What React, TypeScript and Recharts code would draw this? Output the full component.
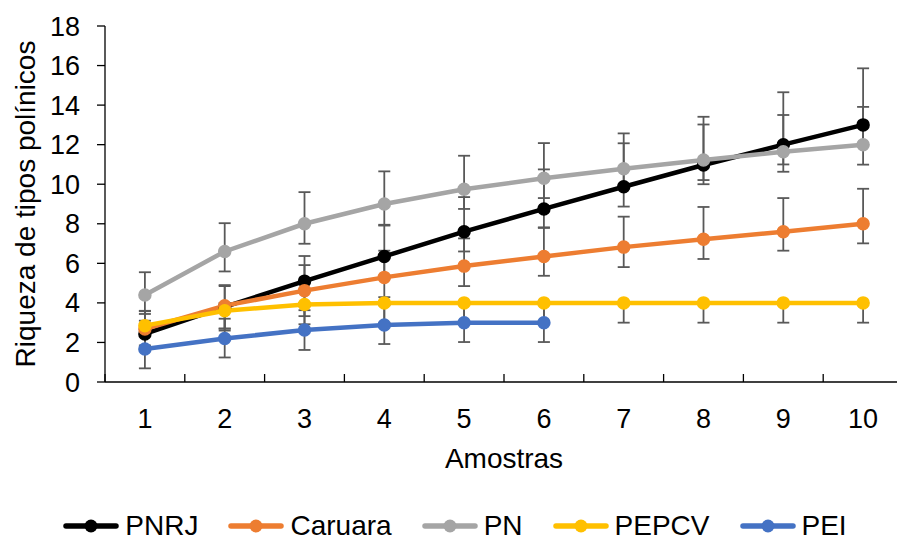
import React from 'react';
import { LineChart, Line, XAxis, YAxis, ErrorBar, Legend, Label } from 'recharts';

const FONT = '"Liberation Sans", Arial, sans-serif';

// Categories (Amostras)
const samples = [1, 2, 3, 4, 5, 6, 7, 8, 9, 10];
const xTicks = [0.5, 1, 1.5, 2, 2.5, 3, 3.5, 4, 4.5, 5, 5.5, 6, 6.5, 7, 7.5, 8, 8.5, 9, 9.5, 10, 10.5];
const yTicks = [0, 2, 4, 6, 8, 10, 12, 14, 16, 18];

// Series values
const pnrj = [2.43, 3.8, 5.1, 6.35, 7.6, 8.75, 9.87, 10.97, 12.0, 13.0];
const caruara = [2.68, 3.86, 4.62, 5.29, 5.86, 6.35, 6.82, 7.22, 7.6, 8.0];
const pn = [4.4, 6.6, 8.0, 9.0, 9.75, 10.3, 10.78, 11.22, 11.64, 12.0];
const pepcv = [2.85, 3.6, 3.92, 4.0, 4.0, 4.0, 4.0, 4.0, 4.0, 4.0];
const pei = [1.67, 2.2, 2.63, 2.88, 3.0, 3.0];

// Error bars (minus, plus)
const pnrjMinus = [0.8, 1.1, 1.27, 1.0, 1.0, 0.96, 1.0, 0.97, 1.0, 1.0];
const pnrjPlus = [0.67, 1.05, 1.27, 1.6, 1.75, 2.0, 2.2, 2.44, 2.65, 2.86];
const caruaraMinus = [0.9, 1.16, 1.29, 1.0, 1.01, 0.98, 1.01, 1.0, 0.96, 0.99];
const caruaraPlus = [0.9, 1.04, 1.29, 1.35, 1.4, 1.47, 1.54, 1.63, 1.7, 1.77];
const pnMinus = [0.96, 1.01, 1.01, 1.09, 1.0, 1.0, 1.0, 1.01, 1.01, 1.01];
const pnPlus = [1.15, 1.43, 1.6, 1.65, 1.69, 1.78, 1.79, 1.8, 1.86, 1.91];
const pepcvMinus = [1.0, 1.0, 1.0, 1.0, 1.0, 1.0, 1.0, 1.0, 1.0, 1.0];
const pepcvPlus = [0.75, 0.4, 0.08, 0, 0, 0, 0, 0, 0, 0];
const peiMinus = [0.98, 0.96, 1.01, 0.96, 0.98, 0.98];
const peiPlus = [1.0, 1.0, 1.0, 1.0, 1.0, 1.0];

const SERIES = [
  { key: 'pnrj', name: 'PNRJ', color: '#000000', values: pnrj, minus: pnrjMinus, plus: pnrjPlus },
  { key: 'caruara', name: 'Caruara', color: '#ED7D31', values: caruara, minus: caruaraMinus, plus: caruaraPlus },
  { key: 'pn', name: 'PN', color: '#A5A5A5', values: pn, minus: pnMinus, plus: pnPlus },
  { key: 'pepcv', name: 'PEPCV', color: '#FFC000', values: pepcv, minus: pepcvMinus, plus: pepcvPlus },
  { key: 'pei', name: 'PEI', color: '#4472C4', values: pei, minus: peiMinus, plus: peiPlus },
];

const data = samples.map((s, i) => {
  const row: any = { x: s };
  SERIES.forEach((se) => {
    const v = se.values[i];
    if (v !== undefined) {
      row[se.key] = v;
      row[se.key + 'Err'] = [se.minus[i], se.plus[i]];
    }
  });
  return row;
});

const XTick = (props: any) => {
  const { x, y, payload } = props;
  const v = payload.value;
  if (Number.isInteger(v)) {
    return (
      <text x={x} y={y + 46} textAnchor="middle" fontSize={27} fill="#000" fontFamily={FONT}>
        {v}
      </text>
    );
  }
  return <line x1={x} x2={x} y1={y} y2={y - 8} stroke="#000" strokeWidth={1.3} />;
};

const renderLegend = () => (
  <div
    style={{
      display: 'flex',
      justifyContent: 'center',
      alignItems: 'center',
      fontFamily: FONT,
      fontSize: 28,
      color: '#000',
      whiteSpace: 'nowrap',
      height: 25,
    }}
  >
    {SERIES.map((s, i) => (
      <div key={s.key} style={{ display: 'flex', alignItems: 'center', marginLeft: i ? 30 : 0, height: 25 }}>
        <svg width={56} height={20} style={{ marginRight: 6, display: 'block' }}>
          <line x1={3} x2={53} y1={10} y2={10} stroke={s.color} strokeWidth={5.5} strokeLinecap="round" />
          <circle cx={28} cy={10} r={6.5} fill={s.color} />
        </svg>
        <span style={{ lineHeight: '25px', display: 'block' }}>{s.name}</span>
      </div>
    ))}
  </div>
);

export default function App() {
  return (
    <div
      style={{
        position: 'absolute',
        left: 0,
        top: 0,
        width: 897,
        height: 542,
        overflow: 'hidden',
        background: '#fff',
      }}
    >
      <LineChart width={910} height={542} data={data} margin={{ top: 26, right: 7, bottom: 94, left: 0 }}>
        <XAxis
          dataKey="x"
          type="number"
          domain={[0.5, 10.5]}
          ticks={xTicks}
          interval={0}
          tick={<XTick />}
          tickLine={false}
          tickSize={0}
          tickMargin={0}
          height={66}
          axisLine={{ stroke: '#000', strokeWidth: 1.3 }}
          allowDataOverflow
        >
          <Label
            value="Amostras"
            position="bottom"
            offset={0}
            style={{ fontSize: 28, fill: '#000', fontFamily: FONT }}
          />
        </XAxis>
        <YAxis
          domain={[0, 18]}
          ticks={yTicks}
          interval={0}
          width={105}
          tickSize={8}
          tickMargin={17}
          tick={{ fontSize: 27, fill: '#000', fontFamily: FONT }}
          tickLine={{ stroke: '#000', strokeWidth: 1.3 }}
          axisLine={{ stroke: '#000', strokeWidth: 1.3 }}
        >
          <Label
            value="Riqueza de tipos polínicos"
            angle={-90}
            position="insideLeft"
            offset={25}
            style={{ fontSize: 28, fill: '#000', fontFamily: FONT, textAnchor: 'middle' }}
          />
        </YAxis>
        {SERIES.map((s) => (
          <Line
            key={s.key}
            dataKey={s.key}
            name={s.name}
            type="linear"
            stroke={s.color}
            strokeWidth={4.5}
            dot={{ r: 6, fill: s.color, stroke: s.color, strokeWidth: 1.5 }}
            activeDot={false}
            isAnimationActive={false}
            legendType="none"
          />
        ))}
        {SERIES.map((s) => (
          <Line
            key={s.key + '-err'}
            dataKey={s.key}
            stroke="none"
            dot={false}
            activeDot={false}
            isAnimationActive={false}
            legendType="none"
          >
            <ErrorBar
              dataKey={s.key + 'Err'}
              width={6}
              stroke="#595959"
              strokeWidth={1.8}
              direction="y"
              isAnimationActive={false}
            />
          </Line>
        ))}
        <Legend
          layout="horizontal"
          verticalAlign="middle"
          align="center"
          content={renderLegend}
          wrapperStyle={{ top: 513, left: 0, width: 910, height: 25 }}
        />
      </LineChart>
    </div>
  );
}
